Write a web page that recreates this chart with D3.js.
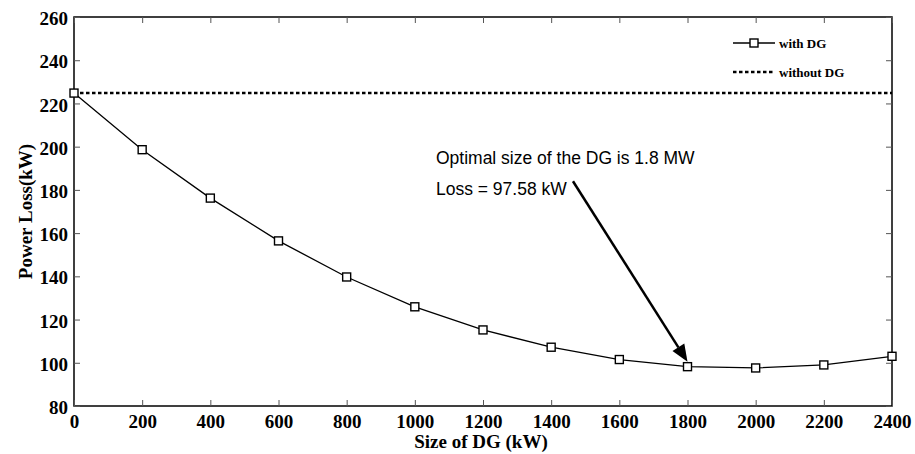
<!DOCTYPE html>
<html>
<head>
<meta charset="utf-8">
<script src="https://cdn.jsdelivr.net/npm/d3@7"></script>
<style>
  body { margin: 0; background: #fff; }
  svg { display: block; }
</style>
</head>
<body>
<svg width="915" height="454"></svg>
<script>
// data
var sizes = [0, 200, 400, 600, 800, 1000, 1200, 1400, 1600, 1800, 2000, 2200, 2400];
var lossWithDG = [224.8, 198.6, 176.2, 156.4, 139.7, 125.9, 115.2, 107.2, 101.5, 98.2, 97.6, 99.0, 103.0];
var lossWithoutDG = 224.8;
var xTicks = [0, 200, 400, 600, 800, 1000, 1200, 1400, 1600, 1800, 2000, 2200, 2400];
var yTicks = [80, 100, 120, 140, 160, 180, 200, 220, 240, 260];
var note1 = "Optimal size of the DG is 1.8 MW";
var note2 = "Loss = 97.58 kW";

var svg = d3.select("svg");
var mLeft = 74, mRight = 892, mTop = 17, mBottom = 406;

var x = d3.scaleLinear().domain([0, 2400]).range([mLeft, mRight]);
var y = d3.scaleLinear().domain([80, 260]).range([mBottom, mTop]);

var serif = "'Liberation Serif', 'Times New Roman', serif";

// box
svg.append("rect")
    .attr("x", mLeft).attr("y", mTop)
    .attr("width", mRight - mLeft).attr("height", mBottom - mTop)
    .attr("fill", "none").attr("stroke", "#000").attr("stroke-width", 1.5);

// axes with inward ticks (MATLAB style)
var xAxis = svg.append("g")
    .attr("transform", "translate(0," + mBottom + ")")
    .call(d3.axisBottom(x).tickValues(xTicks).tickFormat(d3.format("d"))
      .tickSizeInner(-6).tickSizeOuter(0).tickPadding(9));
var yAxis = svg.append("g")
    .attr("transform", "translate(" + mLeft + ",0)")
    .call(d3.axisLeft(y).tickValues(yTicks).tickFormat(d3.format("d"))
      .tickSizeInner(-6).tickSizeOuter(0).tickPadding(6));
svg.append("g")
    .attr("transform", "translate(0," + mTop + ")")
    .call(d3.axisTop(x).tickValues(xTicks).tickSizeInner(-6).tickSizeOuter(0).tickFormat(""));
svg.append("g")
    .attr("transform", "translate(" + mRight + ",0)")
    .call(d3.axisRight(y).tickValues(yTicks).tickSizeInner(-6).tickSizeOuter(0).tickFormat(""));

svg.selectAll(".domain").remove();
svg.selectAll(".tick line").attr("stroke", "#555").attr("stroke-width", 1);
svg.selectAll(".tick text")
    .attr("font-family", serif).attr("font-weight", "bold")
    .attr("font-size", 19).attr("fill", "#000");
xAxis.selectAll(".tick text").attr("dy", "0.71em");
yAxis.selectAll(".tick text").attr("dy", "0.4em");

// axis titles
svg.append("text")
    .attr("x", (mLeft + mRight) / 2 - 2).attr("y", 448)
    .attr("text-anchor", "middle")
    .attr("font-family", serif).attr("font-weight", "bold").attr("font-size", 19)
    .text("Size of DG (kW)");
svg.append("text")
    .attr("transform", "translate(32," + ((mTop + mBottom) / 2) + ") rotate(-90)")
    .attr("text-anchor", "middle")
    .attr("font-family", serif).attr("font-weight", "bold").attr("font-size", 19)
    .text("Power Loss(kW)");

// without DG reference line
svg.append("line")
    .attr("x1", x(0)).attr("x2", x(2400))
    .attr("y1", y(lossWithoutDG)).attr("y2", y(lossWithoutDG))
    .attr("stroke", "#000").attr("stroke-width", 2.5)
    .attr("stroke-dasharray", "3.5,2.5");

// with DG curve
var pts = sizes.map(function(s, i) { return [s, lossWithDG[i]]; });
svg.append("path")
    .datum(pts)
    .attr("fill", "none").attr("stroke", "#000").attr("stroke-width", 1.3)
    .attr("d", d3.line().x(function(d) { return x(d[0]); }).y(function(d) { return y(d[1]); }));

svg.selectAll("rect.mk")
    .data(pts)
    .enter().append("rect")
    .attr("class", "mk")
    .attr("x", function(d) { return x(d[0]) - 4; })
    .attr("y", function(d) { return y(d[1]) - 4; })
    .attr("width", 8).attr("height", 8)
    .attr("fill", "#fff").attr("stroke", "#000").attr("stroke-width", 1.4);

// annotation
var sans = "'Liberation Sans', Arial, sans-serif";
svg.append("text")
    .attr("x", x(1062)).attr("y", y(192.0))
    .attr("font-family", sans).attr("font-size", 17.5)
    .text(note1);
svg.append("text")
    .attr("x", x(1062)).attr("y", y(177.6))
    .attr("font-family", sans).attr("font-size", 17.5)
    .text(note2);

// arrow from the note to the 1800 kW point
var ax1 = x(1464), ay1 = y(184.0);
var ax2 = x(1800), ay2 = y(lossWithDG[9]) - 5;
var ang = Math.atan2(ay2 - ay1, ax2 - ax1);
var headLen = 17, headW = 7;
var bx = ax2 - headLen * Math.cos(ang), by = ay2 - headLen * Math.sin(ang);
svg.append("line")
    .attr("x1", ax1).attr("y1", ay1).attr("x2", bx).attr("y2", by)
    .attr("stroke", "#000").attr("stroke-width", 2.5);
svg.append("path")
    .attr("d", "M" + ax2 + "," + ay2 +
      "L" + (bx + headW * Math.sin(ang)) + "," + (by - headW * Math.cos(ang)) +
      "L" + (bx - headW * Math.sin(ang)) + "," + (by + headW * Math.cos(ang)) + "Z")
    .attr("fill", "#000");

// legend
var lg = svg.append("g");
var lx1 = 733, lx2 = 775;
lg.append("line")
    .attr("x1", lx1).attr("x2", lx2).attr("y1", 43).attr("y2", 43)
    .attr("stroke", "#000").attr("stroke-width", 1.3);
lg.append("rect")
    .attr("x", (lx1 + lx2) / 2 - 4).attr("y", 39).attr("width", 8).attr("height", 8)
    .attr("fill", "#fff").attr("stroke", "#000").attr("stroke-width", 1.4);
lg.append("line")
    .attr("x1", lx1).attr("x2", lx2).attr("y1", 72).attr("y2", 72)
    .attr("stroke", "#000").attr("stroke-width", 2.5).attr("stroke-dasharray", "3.5,2.5");
lg.selectAll("text")
    .data(["with DG", "without DG"])
    .enter().append("text")
    .attr("x", 779)
    .attr("y", function(d, i) { return 43 + i * 29; })
    .attr("dy", "0.35em")
    .attr("font-family", serif).attr("font-weight", "bold").attr("font-size", 13)
    .text(function(d) { return d; });
</script>
</body>
</html>
